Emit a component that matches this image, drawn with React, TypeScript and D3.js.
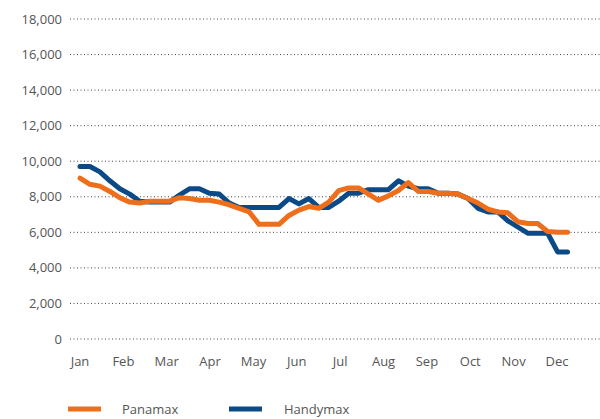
import React from "react";
import * as d3 from "d3";

const months = ["Jan", "Feb", "Mar", "Apr", "May", "Jun", "Jul", "Aug", "Sep", "Oct", "Nov", "Dec"];
const yTicks = [0, 2000, 4000, 6000, 8000, 10000, 12000, 14000, 16000, 18000];

const panamax = [
  9050, 8700, 8600, 8300, 7950, 7700, 7650, 7750, 7750, 7750,
  7950, 7900, 7800, 7800, 7700, 7550, 7350, 7150, 6450, 6450,
  6450, 6950, 7250, 7450, 7350, 7700, 8350, 8500, 8500, 8150,
  7800, 8050, 8350, 8800, 8300, 8300, 8200, 8200, 8150, 7900,
  7650, 7300, 7150, 7100, 6600, 6500, 6500, 6050, 6000, 6000,
];
const handymax = [
  9700, 9700, 9400, 8900, 8450, 8150, 7750, 7700, 7700, 7700,
  8100, 8450, 8450, 8200, 8150, 7650, 7400, 7400, 7400, 7400,
  7400, 7900, 7600, 7900, 7400, 7400, 7750, 8200, 8200, 8400,
  8400, 8400, 8900, 8600, 8450, 8450, 8200, 8200, 8150, 7900,
  7350, 7150, 7150, 6650, 6300, 5950, 5950, 5950, 4900, 4900,
];

const W = 600;
const H = 419;
const ORANGE = "#EE6E1A";
const BLUE = "#0B4A86";

export default function App() {
  const x = d3.scaleLinear().domain([0, 11]).range([80, 557]);
  const y = d3.scaleLinear().domain([0, 18000]).range([339, 19]);
  const weekToMonth = (i: number) => (i * 12) / 52.3;
  const line = d3
    .line<number>()
    .x((_, i) => x(weekToMonth(i)))
    .y((d) => y(d));
  const font = "'Open Sans', 'DejaVu Sans', sans-serif";
  return (
    <svg width={W} height={H} style={{ position: "absolute", left: 0, top: 0 }} fontFamily={font}>
      {yTicks.map((t) => (
        <g key={t}>
          <line x1={70} x2={600} y1={y(t)} y2={y(t)} stroke="#444" strokeWidth={1} strokeDasharray="1 2.5" />
          <text x={62} y={y(t)} dy="0.35em" textAnchor="end" fontSize={13} fill="#555">
            {d3.format(",")(t)}
          </text>
        </g>
      ))}
      {months.map((m, i) => (
        <text key={m} x={x(i)} y={366} textAnchor="middle" fontSize={13} fill="#555">
          {m}
        </text>
      ))}
      <path d={line(handymax) || ""} fill="none" stroke={BLUE} strokeWidth={5} strokeLinejoin="round" strokeLinecap="round" />
      <path d={line(panamax) || ""} fill="none" stroke={ORANGE} strokeWidth={5} strokeLinejoin="round" strokeLinecap="round" />
      <line x1={68} x2={101} y1={409} y2={409} stroke={ORANGE} strokeWidth={5} />
      <text x={122} y={409} dy="0.35em" fontSize={13} fill="#555">Panamax</text>
      <line x1={229} x2={262} y1={409} y2={409} stroke={BLUE} strokeWidth={5} />
      <text x={284} y={409} dy="0.35em" fontSize={13} fill="#555">Handymax</text>
    </svg>
  );
}
